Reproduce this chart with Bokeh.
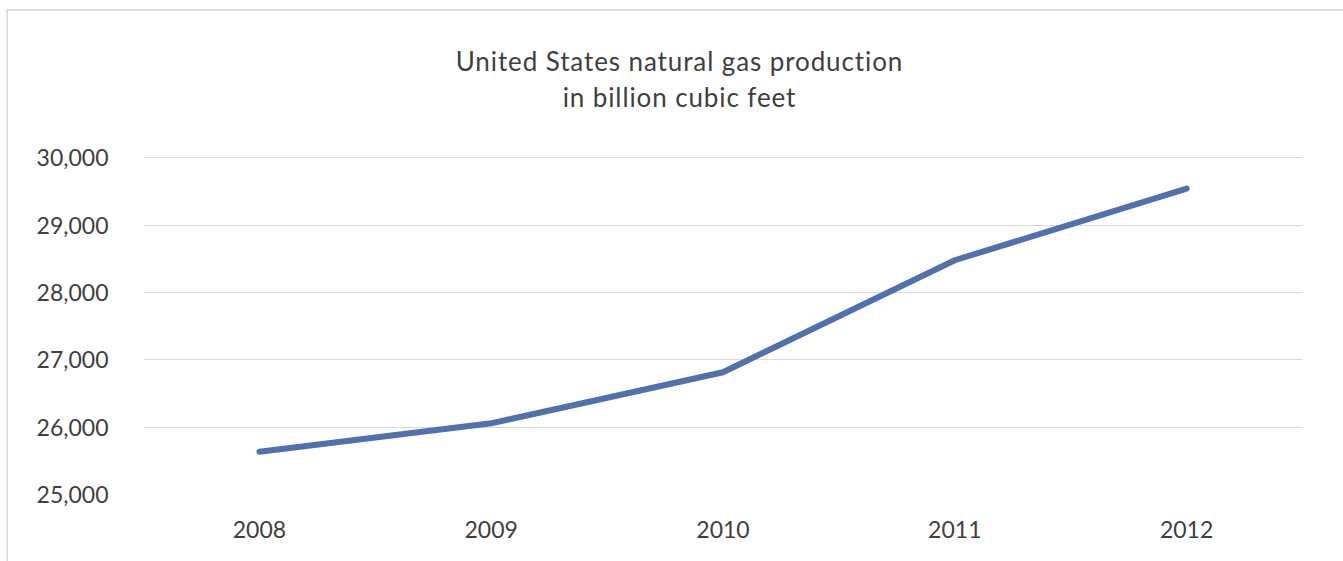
from bokeh.plotting import figure
from bokeh.models import NumeralTickFormatter, FixedTicker, Div
from bokeh.layouts import column
from bokeh.embed import file_html
from bokeh.resources import INLINE

years = ["2008", "2009", "2010", "2011", "2012"]
production = [25636, 26057, 26816, 28479, 29542]
y_ticks = [25000, 26000, 27000, 28000, 29000, 30000]
title_lines = ["United States natural gas production", "in billion cubic feet"]

FONT = "Lato"
TXT = "#404040"

title = Div(text="<br>".join(title_lines), width=1333, height=110,
            styles={"text-align": "center", "font-family": FONT, "font-size": "26px",
                    "letter-spacing": "0.9px",
                    "color": TXT, "line-height": "36px", "padding-top": "27px",
                    "box-sizing": "border-box", "width": "1333px"})

p = figure(x_range=years, y_range=(25000, 30020), width=1333, height=430,
           output_backend="svg", toolbar_location=None,
           min_border_left=135, min_border_right=39, min_border_top=25, min_border_bottom=67)
p.x_range.range_padding = 0
p.outline_line_color = None
p.background_fill_color = "white"
p.border_fill_color = "white"

p.line(years, production, line_color="#5070ae", line_width=6, line_cap="round", line_join="round")

p.yaxis.ticker = FixedTicker(ticks=y_ticks)
p.yaxis.formatter = NumeralTickFormatter(format="0,0")
for ax in (p.xaxis, p.yaxis):
    ax.axis_line_color = None
    ax.major_tick_line_color = None
    ax.minor_tick_line_color = None
    ax.major_label_text_font = FONT
    ax.major_label_text_font_size = "23px"
    ax.major_label_text_color = TXT
p.yaxis.major_label_standoff = 29
p.xaxis.major_label_standoff = 20
p.xgrid.grid_line_color = None
p.ygrid.grid_line_color = "#d9d9d9"
p.ygrid.grid_line_width = 1

layout = column(title, p, spacing=0,
                styles={"border-left": "2px solid #e0e0e0", "border-top": "2px solid #e0e0e0",
                        "border-right": "2px solid #e0e0e0", "margin-left": "6px",
                        "margin-top": "9px", "background-color": "white"})

open("out.html", "w").write(file_html(layout, INLINE))
